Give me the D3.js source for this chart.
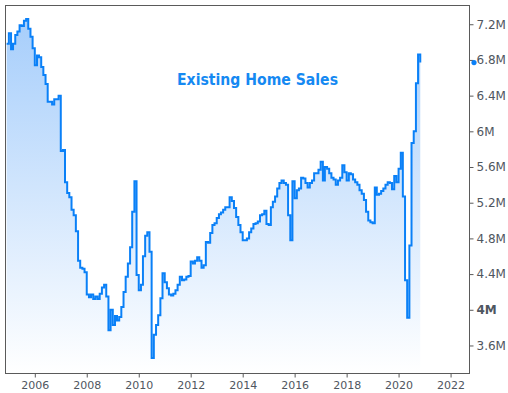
<!DOCTYPE html>
<html><head><meta charset="utf-8">
<script src="https://cdn.jsdelivr.net/npm/d3@7"></script>
<style>body{margin:0;background:#fff}svg{display:block}</style>
</head><body>
<svg id="c" width="508" height="393"></svg>
<script>
// ---- data (monthly, millions, SAAR) ----
const startMonth = "2004-12";
const sales = [
6.98,7.10,6.92,6.98,7.08,7.12,7.19,7.18,7.24,7.26,7.15,7.06,6.93,
6.74,6.85,6.83,6.72,6.63,6.53,6.33,6.33,6.30,6.36,6.36,6.40,
5.78,5.79,5.43,5.31,5.26,5.12,5.06,4.88,4.55,4.47,4.46,4.42,
4.17,4.14,4.17,4.12,4.15,4.12,4.18,4.25,4.28,4.15,3.77,4.00,
3.83,3.93,3.88,3.92,4.03,4.20,4.37,4.52,4.70,5.10,5.44,4.39,
4.22,4.28,4.60,4.83,4.87,4.65,3.46,3.72,3.83,3.94,4.13,4.41,
4.31,4.24,4.17,4.16,4.18,4.22,4.28,4.37,4.33,4.34,4.37,4.38,
4.54,4.52,4.55,4.59,4.55,4.47,4.50,4.76,4.75,4.86,4.95,4.97,
5.03,5.07,5.09,5.12,5.15,5.15,5.26,5.22,5.14,5.04,4.95,4.87,
4.78,4.78,4.80,4.87,4.91,4.96,4.97,4.99,5.06,5.07,5.11,4.96,
4.95,5.15,5.21,5.27,5.36,5.42,5.45,5.42,5.40,5.06,4.78,5.44,
5.25,5.34,5.36,5.48,5.47,5.42,5.37,5.42,5.45,5.53,5.53,5.57,
5.66,5.45,5.60,5.58,5.53,5.48,5.46,5.40,5.45,5.48,5.62,5.54,
5.45,5.53,5.52,5.46,5.43,5.40,5.34,5.30,5.23,5.10,5.00,4.98,
4.97,5.37,5.29,5.30,5.33,5.36,5.40,5.43,5.42,5.35,5.50,5.43,
5.58,5.76,5.27,4.33,3.91,4.72,5.87,6.00,6.54,6.86,6.77
];
const yTicks = [3.6,4.0,4.4,4.8,5.2,5.6,6.0,6.4,6.8,7.2];
const yTickLabels = ["3.6M","4M","4.4M","4.8M","5.2M","5.6M","6M","6.4M","6.8M","7.2M"];
const boldTickLabel = "4M";
const xTickYears = [2006,2008,2010,2012,2014,2016,2018,2020,2022];
const title = "Existing Home Sales";

// ---- layout ----
const L = 5.5, R = 469.5, T = 5.5, B = 373.5;
const svg = d3.select("#c");
const parse = d3.timeParse("%Y-%m");
const t0 = parse(startMonth);
const data = sales.map((v,i)=>({d:d3.timeMonth.offset(t0,i), v}));

const x = d3.scaleTime().domain([new Date(2004,10,15), new Date(2022,8,24)]).range([L,R]);
const y = d3.scaleLinear().domain([3.286,7.41]).range([B,T]);

const defs = svg.append("defs");
const g = defs.append("linearGradient").attr("id","fillg")
  .attr("gradientUnits","userSpaceOnUse").attr("x1",0).attr("x2",0).attr("y1",T).attr("y2",B);
g.append("stop").attr("offset","0").attr("stop-color","#a3ccfb");
g.append("stop").attr("offset","1").attr("stop-color","#ffffff");
defs.append("clipPath").attr("id","clip").append("rect")
  .attr("x",L).attr("y",T).attr("width",R-L).attr("height",B-T);

const plot = svg.append("g").attr("clip-path","url(#clip)");
const area = d3.area().curve(d3.curveStepAfter).x(d=>x(d.d)).y0(B).y1(d=>y(d.v));
const line = d3.line().curve(d3.curveStepAfter).x(d=>x(d.d)).y(d=>y(d.v));
plot.append("path").datum(data).attr("d",area).attr("fill","url(#fillg)");
plot.append("path").datum(data).attr("d",line).attr("fill","none")
  .attr("stroke","#0a80f7").attr("stroke-width",2).attr("stroke-linejoin","miter");

// frame
svg.append("rect").attr("x",L).attr("y",T).attr("width",R-L).attr("height",B-T)
  .attr("fill","none").attr("stroke","#5a5a5a").attr("stroke-width",1);

// right axis
const yAxis = d3.axisRight(y).tickValues(yTicks).tickSize(4).tickPadding(3)
  .tickFormat((d,i)=>yTickLabels[i]);
const ya = svg.append("g").attr("transform",`translate(${R},0)`).call(yAxis);
ya.select(".domain").remove();
ya.selectAll(".tick line").attr("stroke","#5a5a5a");
ya.selectAll(".tick text").attr("fill","#4f5660").attr("font-family","DejaVu Sans")
  .attr("font-size",12).attr("font-weight",(d,i)=>yTickLabels[i]===boldTickLabel?"bold":"normal");

// bottom axis
const xAxis = d3.axisBottom(x).tickValues(xTickYears.map(yv=>new Date(yv,0,1)))
  .tickSize(4).tickPadding(4).tickFormat(d3.timeFormat("%Y"));
const xa = svg.append("g").attr("transform",`translate(0,${B})`).call(xAxis);
xa.select(".domain").remove();
xa.selectAll(".tick line").attr("stroke","#5a5a5a");
xa.selectAll(".tick text").attr("fill","#4f5660").attr("font-family","DejaVu Sans").attr("font-size",11);

// last value marker
const last = data[data.length-1];
svg.append("circle").attr("cx",R+4.5).attr("cy",y(last.v)).attr("r",2.6).attr("fill","#0a80f7");

// title
svg.append("text").attr("x",177).attr("y",85).text(title)
  .attr("font-family","DejaVu Sans").attr("font-weight","bold").attr("font-size",16.5)
  .attr("textLength",161).attr("lengthAdjust","spacingAndGlyphs").attr("fill","#1589f2");
</script>
</body></html>
